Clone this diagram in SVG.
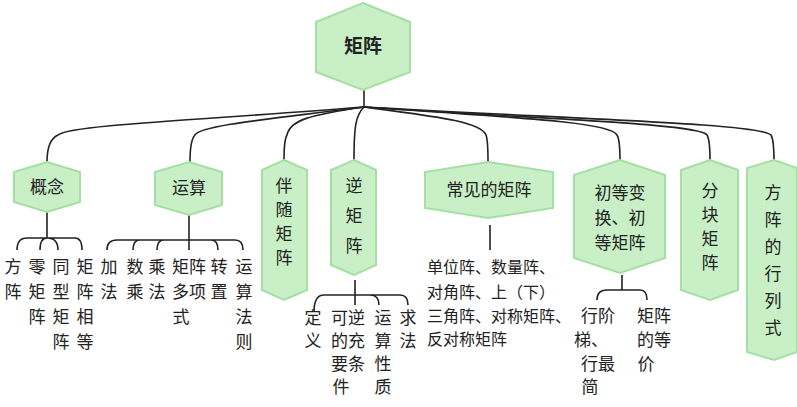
<svg xmlns="http://www.w3.org/2000/svg" width="797" height="407" viewBox="0 0 797 407">
<style>
.n{fill:#c8efc6;stroke:#a6dfa4;stroke-width:2}
.t{font-family:"Noto Sans CJK SC",sans-serif;font-size:17px;fill:#222;text-anchor:middle}
.h{font-family:"Noto Sans CJK SC",sans-serif;font-size:19px;font-weight:bold;fill:#222;text-anchor:middle}
.s{font-family:"Noto Sans CJK SC",sans-serif;font-size:16px;fill:#222}
.c{fill:none;stroke:#222;stroke-width:1.6}
</style>
<rect width="797" height="407" fill="#fff"/>
<g id="connectors" class="c">
<path d="M364 89V107"/>
<path d="M364 107C200 120 70 125 58 135Q47 140 47 162"/>
<path d="M364 107C280 118 200 125 195 135Q190 140 190 162"/>
<path d="M364 107C310 115 290 120 287 135Q284 140 284 160"/>
<path d="M364 107C356 115 354 125 354 160"/>
<path d="M364 107C420 115 480 120 486 135Q488 140 488 162"/>
<path d="M364 107C520 118 610 122 617 135Q620 140 620 160"/>
<path d="M364 107C560 120 700 124 707 135Q710 140 710 160"/>
<path d="M364 107C600 120 760 124 771 135Q774 140 774 162"/>
<path d="M47 212V238M17 250Q17 238 27 238H75Q82 238 82 250M40 250Q40 238 47 238M58 250Q58 238 47 238"/>
<path d="M189 215V250M107 250Q107 240 117 240H235Q243 240 243 250M133 250Q133 240 140 240M157 250Q157 240 164 240M218 250Q218 240 211 240"/>
<path d="M355 280V305M314 312Q314 295 324 295H400Q408 295 408 305M379 305Q379 295 370 295"/>
<path d="M490 225V250"/>
<path d="M622 275V290M597 300Q597 290 607 290H640Q647 290 647 300"/>
</g>
<g id="root"><path class="n" d="M363 3L410 22V72L363 90L316 72V22Z"/><text class="h" x="363" y="53">矩阵</text></g>
<g id="gainian"><path class="n" d="M47 162L80 172V202L47 212L14 202V172Z"/><text class="t" x="47" y="193">概念</text></g>
<g id="yunsuan"><path class="n" d="M189 162L222 172V205L189 215L155 205V172Z"/><text class="t" x="189" y="194">运算</text></g>
<g id="banshui"><path class="n" d="M284 160L307 170V290L284 300L262 290V170Z"/><text class="t" x="284" y="192">伴</text><text class="t" x="284" y="216">随</text><text class="t" x="284" y="240">矩</text><text class="t" x="284" y="264">阵</text></g>
<g id="ni"><path class="n" d="M354 160L376 170V265L354 275L331 265V170Z"/><text class="t" x="354" y="192">逆</text><text class="t" x="354" y="222">矩</text><text class="t" x="354" y="252">阵</text></g>
<g id="changjian"><path class="n" d="M488 162L553 172V208L488 218L425 208V172Z"/><text class="t" x="489" y="196">常见的矩阵</text></g>
<g id="chudeng"><path class="n" d="M620 160L665 175V258L620 273L574 258V175Z"/><text class="t" x="620" y="199">初等变</text><text class="t" x="620" y="224">换、初</text><text class="t" x="620" y="249">等矩阵</text></g>
<g id="fenkuai"><path class="n" d="M710 160L738 170V290L710 300L681 290V170Z"/><text class="t" x="710" y="197">分</text><text class="t" x="710" y="221">块</text><text class="t" x="710" y="245">矩</text><text class="t" x="710" y="269">阵</text></g>
<g id="hanglieshi"><path class="n" d="M774 160L797 168V352L774 360L747 352V168Z"/><text class="t" x="773" y="199">方</text><text class="t" x="773" y="226">阵</text><text class="t" x="773" y="253">的</text><text class="t" x="773" y="280">行</text><text class="t" x="773" y="307">列</text><text class="t" x="773" y="334">式</text></g>
<g id="gainian-items" class="t">
<text x="13" y="273">方</text><text x="13" y="298">阵</text>
<text x="37" y="273">零</text><text x="37" y="298">矩</text><text x="37" y="323">阵</text>
<text x="61" y="273">同</text><text x="61" y="298">型</text><text x="61" y="323">矩</text><text x="61" y="348">阵</text>
<text x="85" y="273">矩</text><text x="85" y="298">阵</text><text x="85" y="323">相</text><text x="85" y="348">等</text>
</g>
<g id="yunsuan-items" class="t">
<text x="109" y="273">加</text><text x="109" y="298">法</text>
<text x="135" y="273">数</text><text x="135" y="298">乘</text>
<text x="157" y="273">乘</text><text x="157" y="298">法</text>
<text x="189" y="273">矩阵</text><text x="189" y="298">多项</text><text x="181" y="323">式</text>
<text x="219" y="273">转</text><text x="219" y="298">置</text>
<text x="244" y="273">运</text><text x="244" y="298">算</text><text x="244" y="323">法</text><text x="244" y="348">则</text>
</g>
<g id="ni-items" class="t">
<text x="313" y="324">定</text><text x="313" y="347">义</text>
<text x="348" y="324">可逆</text><text x="348" y="347">的充</text><text x="348" y="370">要条</text><text x="341" y="393">件</text>
<text x="383" y="324">运</text><text x="383" y="347">算</text><text x="383" y="370">性</text><text x="383" y="393">质</text>
<text x="408" y="324">求</text><text x="408" y="347">法</text>
</g>
<g id="changjian-items" class="s">
<text x="427" y="273">单位阵、数量阵、</text>
<text x="427" y="298">对角阵、上（下）</text>
<text x="427" y="322">三角阵、对称矩阵、</text>
<text x="427" y="345">反对称矩阵</text>
</g>
<g id="chudeng-items" class="t">
<text x="598" y="322">行阶</text><text x="591" y="346">梯、</text><text x="598" y="370">行最</text><text x="590" y="393">简</text>
<text x="654" y="322">矩阵</text><text x="654" y="346">的等</text><text x="646" y="370">价</text>
</g>
</svg>
